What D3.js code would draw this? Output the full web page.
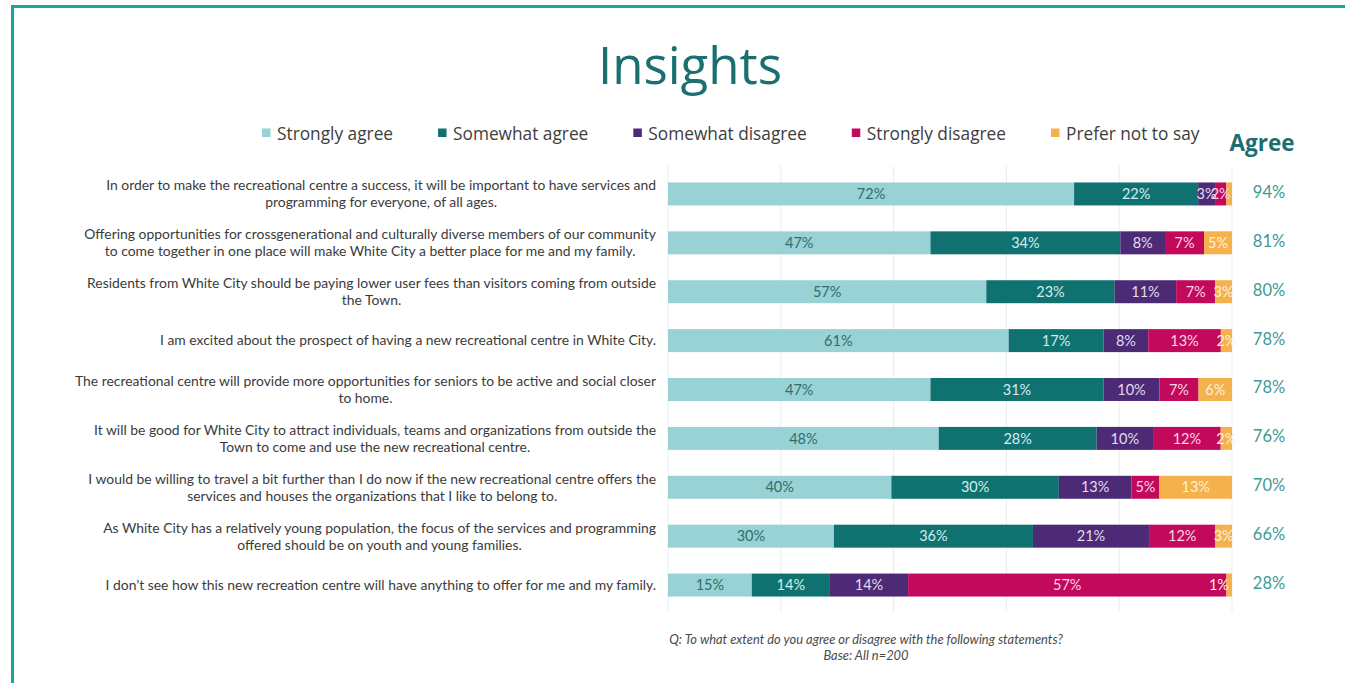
<!DOCTYPE html>
<html>
<head>
<meta charset="utf-8">
<script src="https://cdn.jsdelivr.net/npm/d3@7"></script>
<style>
  html, body { margin: 0; padding: 0; background: #ffffff; }
  svg { display: block; }
</style>
</head>
<body>
<svg id="chart" width="1345" height="683"></svg>
<script>
// ---------------- DATA ----------------
const title = "Insights";
const seriesNames = ["Strongly agree", "Somewhat agree", "Somewhat disagree", "Strongly disagree", "Prefer not to say"];
const categories = [
  ["In order to make the recreational centre a success, it will be important to have services and", "programming for everyone, of all ages."],
  ["Offering opportunities for crossgenerational and culturally diverse members of our community", "to come together in one place will make White City a better place for me and my family."],
  ["Residents from White City should be paying lower user fees than visitors coming from outside", "the Town."],
  ["I am excited about the prospect of having a new recreational centre in White City."],
  ["The recreational centre will provide more opportunities for seniors to be active and social closer", "to home."],
  ["It will be good for White City to attract individuals, teams and organizations from outside the", "Town to come and use the new recreational centre."],
  ["I would be willing to travel a bit further than I do now if the new recreational centre offers the", "services and houses the organizations that I like to belong to."],
  ["As White City has a relatively young population, the focus of the services and programming", "offered should be on youth and young families."],
  ["I don\u2019t see how this new recreation centre will have anything to offer for me and my family."]
];
const stronglyAgree    = [72, 47, 57, 61, 47, 48, 40, 30, 15];
const somewhatAgree    = [22, 34, 23, 17, 31, 28, 30, 36, 14];
const somewhatDisagree = [3, 8, 11, 8, 10, 10, 13, 21, 14];
const stronglyDisagree = [2, 7, 7, 13, 7, 12, 5, 12, 57];
const preferNotToSay   = [1, 5, 3, 2, 6, 2, 13, 3, 1];
const agreeTotals      = [94, 81, 80, 78, 78, 76, 70, 66, 28];
const agreeHeader = "Agree";
const xTicks = [0, 0.2, 0.4, 0.6, 0.8, 1.0];
const footnote = ["Q: To what extent do you agree or disagree with the following statements?", "Base: All n=200"];

// ---------------- STYLE ----------------
const colors = ["#98d2d4", "#0f7271", "#4c2a76", "#c3095b", "#f4b14c"];
const labelColors = ["#2f6d6f", "#d5ecec", "#e3dcef", "#f6d8e4", "#fdf1dc"];
const labelFont = "'Lato', 'Open Sans', sans-serif";

const svg = d3.select("#chart");
const W = 1345, H = 683;

// frame
svg.append("rect").attr("x", 11).attr("y", 5).attr("width", W - 11).attr("height", 3).attr("fill", "#14a6a1");
svg.append("rect").attr("x", 11).attr("y", 5).attr("width", 3).attr("height", H - 5).attr("fill", "#14a6a1");

// title
svg.append("text")
  .attr("x", 690).attr("y", 84)
  .attr("text-anchor", "middle")
  .attr("font-family", "'Open Sans', 'Noto Sans', sans-serif")
  .attr("font-size", 51)
  .attr("fill", "#1b6f71")
  .text(title);

// data table
const rows = categories.map((c, i) => ({
  idx: i,
  lines: c,
  "Strongly agree": stronglyAgree[i],
  "Somewhat agree": somewhatAgree[i],
  "Somewhat disagree": somewhatDisagree[i],
  "Strongly disagree": stronglyDisagree[i],
  "Prefer not to say": preferNotToSay[i],
  agree: agreeTotals[i]
}));

const stacked = d3.stack().keys(seriesNames).offset(d3.stackOffsetExpand)(rows);

const x = d3.scaleLinear().domain([0, 1]).range([668, 1232]);
const y = d3.scaleBand().domain(rows.map(r => r.idx)).range([169.5, 609.5]).paddingInner(0.53).paddingOuter(0.265);

// gridlines
svg.append("g").selectAll("line").data(xTicks).join("line")
  .attr("x1", d => x(d)).attr("x2", d => x(d))
  .attr("y1", 166).attr("y2", 612)
  .attr("stroke", "#e4eff2").attr("stroke-width", 1);

// bars
const layers = svg.append("g").selectAll("g").data(stacked).join("g")
  .attr("fill", (d, i) => colors[i]);
layers.selectAll("rect").data(d => d).join("rect")
  .attr("x", d => x(d[0]))
  .attr("y", d => y(d.data.idx))
  .attr("width", d => x(d[1]) - x(d[0]))
  .attr("height", y.bandwidth());

// segment labels
stacked.forEach((layer, si) => {
  const key = seriesNames[si];
  layer.forEach((d, ri) => {
    const v = d.data[key];
    let show = v >= 2;
    let anchor = "middle";
    let px = (x(d[0]) + x(d[1])) / 2;
    if (v < 2 && si > 0) {
      const prevVal = d.data[seriesNames[si - 1]];
      if (prevVal >= 10) { show = true; anchor = "end"; px = x(d[1]) - 3; }
    }
    if (!show) return;
    svg.append("text")
      .attr("x", px)
      .attr("y", y(d.data.idx) + y.bandwidth() / 2)
      .attr("dy", "0.36em")
      .attr("text-anchor", anchor)
      .attr("font-family", labelFont)
      .attr("font-size", 14.5)
      .attr("fill", labelColors[si])
      .text(v + "%");
  });
});

// category labels: block right-aligned, lines centred within block
const catG = svg.append("g");
rows.forEach(r => {
  const cy = y(r.idx) + y.bandwidth() / 2;
  const lh = 17;
  const n = r.lines.length;
  const t = catG.append("text")
    .attr("font-family", labelFont)
    .attr("font-size", 13.9)
    .attr("fill", "#3b3b3b")
    .attr("text-anchor", "middle");
  const spans = r.lines.map((ln, k) => t.append("tspan")
    .attr("y", cy + (k - (n - 1) / 2) * lh)
    .attr("dy", "0.35em")
    .text(ln));
  const maxW = d3.max(spans, s => s.node().getComputedTextLength());
  spans.forEach(s => s.attr("x", 656 - maxW / 2));
});

// agree totals
svg.append("g").selectAll("text").data(rows).join("text")
  .attr("x", 1269)
  .attr("y", d => y(d.idx) + y.bandwidth() / 2 - 2)
  .attr("dy", "0.36em")
  .attr("text-anchor", "middle")
  .attr("font-family", labelFont)
  .attr("font-size", 16.5)
  .attr("fill", "#3e9a96")
  .text(d => d.agree + "%");

svg.append("text")
  .attr("x", 1262).attr("y", 151)
  .attr("text-anchor", "middle")
  .attr("font-family", "'Open Sans', sans-serif")
  .attr("font-weight", "bold")
  .attr("font-size", 22.5)
  .attr("fill", "#1d6e70")
  .text(agreeHeader);

// legend
let lx = 262;
const legend = svg.append("g");
seriesNames.forEach((name, i) => {
  legend.append("rect").attr("x", lx).attr("y", 128.5).attr("width", 8.5).attr("height", 8.5).attr("fill", colors[i]);
  const t = legend.append("text")
    .attr("x", lx + 15).attr("y", 133.5)
    .attr("dy", "0.36em")
    .attr("font-family", "'Open Sans', sans-serif")
    .attr("font-size", 17.3)
    .attr("fill", "#3d3d3d")
    .text(name);
  lx = lx + 15 + t.node().getComputedTextLength() + 45;
});

// footnote
svg.append("g").selectAll("text").data(footnote).join("text")
  .attr("x", 866)
  .attr("y", (d, i) => 644 + i * 16)
  .attr("text-anchor", "middle")
  .attr("font-family", labelFont)
  .attr("font-style", "italic")
  .attr("font-size", 12.9)
  .attr("fill", "#4a4a4a")
  .text(d => d);
</script>
</body>
</html>
